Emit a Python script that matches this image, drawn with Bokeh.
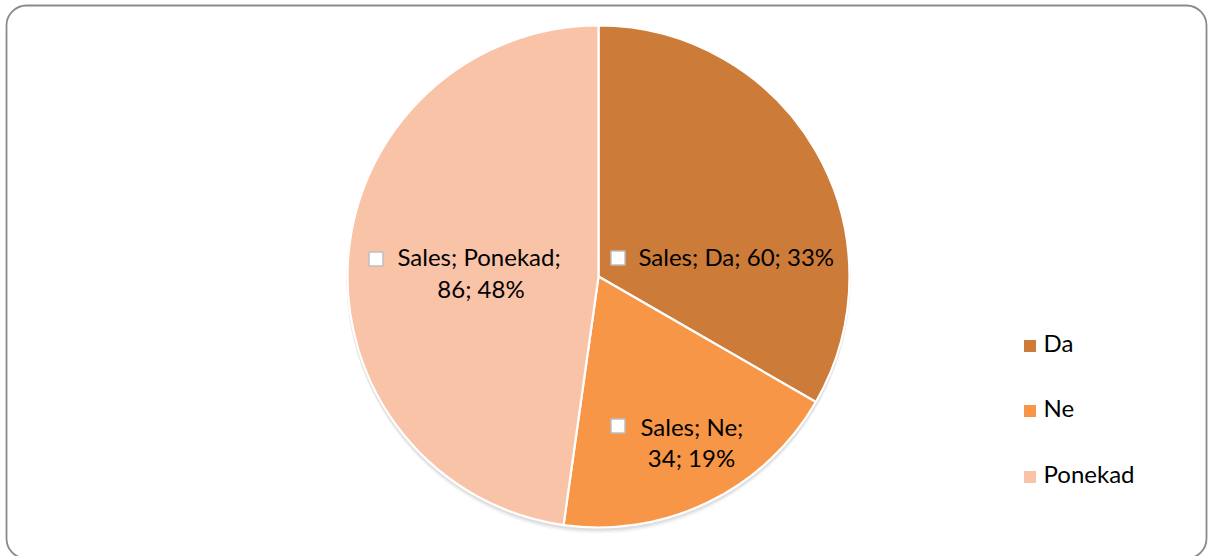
import math
from bokeh.plotting import figure
from bokeh.models import Range1d, BoxAnnotation, ColumnDataSource
from bokeh.core.properties import value
from bokeh.embed import file_html
from bokeh.resources import INLINE

# ---- data ----
series_name = "Sales"
categories = ["Da", "Ne", "Ponekad"]
values = [60, 34, 86]
colors = ["#CC7B39", "#F79646", "#F9C3A8"]

# ---- layout / style (pixel geometry of the page) ----
W, H = 1208, 556
FONT = value("Lato")
FS = "24px"
TSHIFT = 2.5  # text vertical correction (px, upwards)

def dx(px):
    return px

def dy(py):
    return H - py

cx, cy, R = dx(598), dy(276), 251

p = figure(width=W, height=H, output_backend="svg", toolbar_location=None,
           x_range=Range1d(0, W), y_range=Range1d(0, H), min_border=0,
           outline_line_color=None, background_fill_color="white")
p.axis.visible = False
p.grid.visible = False

# outer rounded border
p.add_layout(BoxAnnotation(left=dx(6), right=dx(1206), top=dy(5), bottom=dy(558),
                           fill_color=None, line_color="#8A8A8A", line_alpha=1.0,
                           line_width=1.8, border_radius=20))

# pie shadow
for off, a in [(5, 0.05), (3.5, 0.07), (2, 0.1)]:
    p.circle(x=[cx], y=[cy - off], radius=R + 1, fill_color="#606060", fill_alpha=a,
             line_color=None)

total = sum(values)
starts, ends, pcts = [], [], []
ang = math.pi / 2
for v in values:
    sweep = 2 * math.pi * v / total
    starts.append(ang)
    ends.append(ang - sweep)
    ang -= sweep
    pcts.append(round(100 * v / total))

src = ColumnDataSource(dict(start=starts, end=ends, color=colors, cat=categories))
p.wedge(x=cx, y=cy, radius=R, start_angle="start", end_angle="end", direction="clock",
        fill_color="color", line_color="white", line_width=2.2, source=src)

# data labels: (line1 left px, line1 mid py, square left px, square top py, line2 center px, line2 mid py)
label_pos = [
    (638, 258, 610, 250, None, None),
    (640, 428, 610, 418, 691, 459),
    (397, 258, 368, 251, 480.5, 290),
]
for cat, v, pc, pos in zip(categories, values, pcts, label_pos):
    l1x, l1y, sx, sy, l2x, l2y = pos
    full = f"{series_name}; {cat}; {v}; {pc}%"
    if l2x is None:
        lines = [(full, l1x, l1y, "left")]
    else:
        lines = [(f"{series_name}; {cat};", l1x, l1y, "left"),
                 (f"{v}; {pc}%", l2x, l2y, "center")]
    for t, x, y, al in lines:
        p.text(x=[dx(x)], y=[dy(y - TSHIFT)], text=[t], text_font=FONT, text_font_size=FS,
               text_color="#000000", text_align=al, text_baseline="middle")
    p.rect(x=[dx(sx + 7.5)], y=[dy(sy + 7.5)], width=14, height=14,
           fill_color="white", line_color="#BFBFBF", line_width=1.5)

# legend
leg_y = [345.5, 410.5, 476.5]
for cat, col, ly in zip(categories, colors, leg_y):
    p.rect(x=[dx(1029.5)], y=[dy(ly)], width=12, height=12, fill_color=col, line_color=None)
    p.text(x=[dx(1043)], y=[dy(ly - TSHIFT - 1)], text=[cat], text_font=FONT, text_font_size=FS,
           text_color="#000000", text_align="left", text_baseline="middle")

open("out.html", "w").write(file_html(p, INLINE))
